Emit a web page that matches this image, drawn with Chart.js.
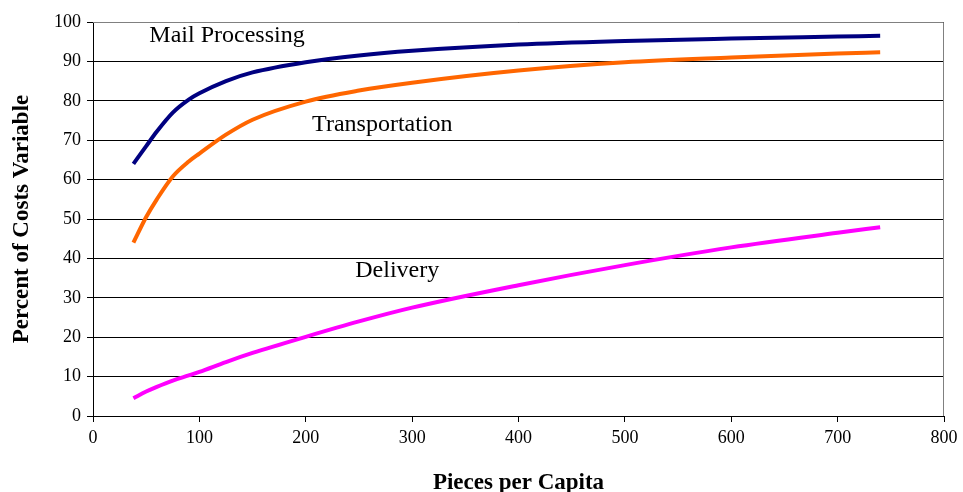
<!DOCTYPE html>
<html>
<head>
<meta charset="utf-8">
<script src="https://cdn.jsdelivr.net/npm/chart.js@4/dist/chart.umd.min.js"></script>
<style>
  html, body { margin: 0; padding: 0; background: #fff; }
  #wrap { width: 963px; height: 492px; }
</style>
</head>
<body>
<div id="wrap"><canvas id="c" width="963" height="492"></canvas></div>
<script>
// pieces per capita (x) and percent of costs variable for each function
var pieces = [38, 50, 60, 75, 90, 100, 125, 150, 200, 250, 300, 400, 500, 600, 700, 740];
var mailProcessing = [64, 68.5, 72.2, 77.0, 80.3, 81.9, 85, 87.2, 89.8, 91.5, 92.7, 94.3, 95.2, 95.8, 96.3, 96.5];
var transportation = [44, 50.5, 55, 60.8, 64.6, 66.6, 71.4, 75.2, 79.8, 82.6, 84.6, 87.7, 89.8, 91, 92, 92.3];
var delivery = [4.5, 6.2, 7.4, 9, 10.3, 11.2, 13.7, 16, 20.1, 24, 27.5, 33.2, 38.3, 42.8, 46.5, 47.9];

var xTicks = [0, 100, 200, 300, 400, 500, 600, 700, 800];
var yTicks = [0, 10, 20, 30, 40, 50, 60, 70, 80, 90, 100];

// curve labels placed in data coordinates
var curveLabels = [
    {text: 'Mail Processing', x: 126, y: 96.4},
    {text: 'Transportation', x: 272, y: 73.9},
    {text: 'Delivery', x: 286, y: 36.8}
];

function toPoints(ys) {
    return pieces.map(function(x, i) { return {x: x, y: ys[i]}; });
}

var serif = '"Liberation Serif", "Times New Roman", serif';

var labelPlugin = {
    id: 'curveLabels',
    afterDatasetsDraw: function(chart) {
        var ctx = chart.ctx;
        var xs = chart.scales.x, ys = chart.scales.y;
        var area = chart.chartArea;
        ctx.save();
        // plot frame (top and right edges)
        ctx.strokeStyle = '#808080';
        ctx.lineWidth = 1;
        ctx.beginPath();
        ctx.moveTo(area.left, area.top + 0.5);
        ctx.lineTo(area.right - 0.5, area.top + 0.5);
        ctx.lineTo(area.right - 0.5, area.bottom);
        ctx.stroke();
        ctx.fillStyle = '#000';
        ctx.font = '24px ' + serif;
        ctx.textAlign = 'center';
        ctx.textBaseline = 'middle';
        curveLabels.forEach(function(l) {
            ctx.fillText(l.text, xs.getPixelForValue(l.x), ys.getPixelForValue(l.y));
        });
        ctx.restore();
    }
};

var lineStyle = {borderWidth: 4, pointRadius: 0, fill: false, cubicInterpolationMode: 'monotone'};

new Chart(document.getElementById('c'), {
    type: 'line',
    data: {
        datasets: [
            Object.assign({label: 'Mail Processing', data: toPoints(mailProcessing), borderColor: '#000080'}, lineStyle),
            Object.assign({label: 'Transportation', data: toPoints(transportation), borderColor: '#FF6600'}, lineStyle),
            Object.assign({label: 'Delivery', data: toPoints(delivery), borderColor: '#FF00FF'}, lineStyle)
        ]
    },
    options: {
        responsive: false,
        animation: false,
        layout: {padding: {top: 22, right: 19, left: 0, bottom: 0}},
        plugins: {legend: {display: false}, tooltip: {enabled: false}},
        scales: {
            x: {
                type: 'linear', min: 0, max: 800,
                afterBuildTicks: function(s) { s.ticks = xTicks.map(function(v) { return {value: v}; }); },
                afterFit: function(s) { s.height = 76; },
                border: {color: '#000', width: 1},
                grid: {drawOnChartArea: false, drawTicks: true, tickLength: 6, color: '#000'},
                ticks: {color: '#000', font: {family: serif, size: 18}, padding: 5, maxRotation: 0},
                title: {display: true, text: 'Pieces per Capita', color: '#000',
                        font: {family: serif, size: 23, weight: 'bold'}, padding: {top: 14, bottom: -5}}
            },
            y: {
                min: 0, max: 100,
                afterBuildTicks: function(s) { s.ticks = yTicks.map(function(v) { return {value: v}; }); },
                afterFit: function(s) { s.width = 93; },
                border: {color: '#000', width: 1},
                grid: {color: '#000', lineWidth: 1, drawTicks: true, tickLength: 6},
                ticks: {color: '#000', font: {family: serif, size: 18}, padding: 6},
                title: {display: true, text: 'Percent of Costs Variable', color: '#000',
                        font: {family: serif, size: 23, weight: 'bold'}, padding: {top: 8, bottom: 0}}
            }
        }
    },
    plugins: [labelPlugin]
});
</script>
</body>
</html>
